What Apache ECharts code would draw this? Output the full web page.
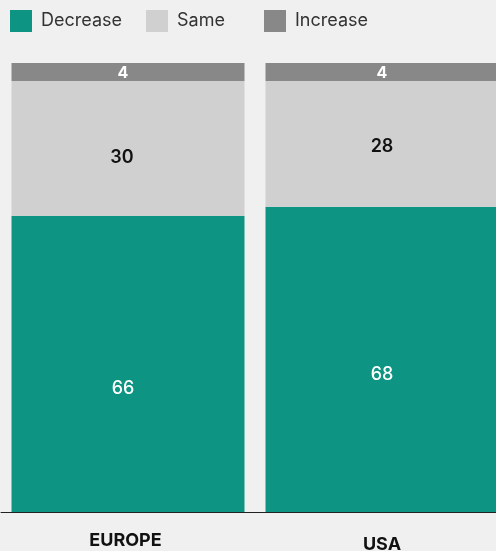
<!DOCTYPE html>
<html>
<head>
<meta charset="utf-8">
<script src="https://cdn.jsdelivr.net/npm/echarts@6/dist/echarts.min.js"></script>
<style>
  html, body { margin: 0; padding: 0; background: #f0f0f0; }
  #chart { width: 496px; height: 551px; }
</style>
</head>
<body>
<div id="chart"></div>
<script>
// 数据
const regions = ['EUROPE', 'USA']
const decrease = [66, 68]
const same = [30, 28]
const increase = [4, 4]

const colors = { Decrease: '#0e9482', Same: '#d0d0d0', Increase: '#888888' }
// 标签在原图中略微偏移
const labelShift = {
  Decrease: [[-5, 25], [0, 15]],
  Same: [[-6, 9], [0, 3]],
  Increase: [[-5, 1], [0, 1]]
}
const font = 'Inter, "Noto Sans", sans-serif'

const chart = echarts.init(document.getElementById('chart'))

// 每个图例单独放置
function legendItem(name, left) {
  return {
    data: [name],
    left: left,
    top: 10,
    padding: 0,
    itemWidth: 22,
    itemHeight: 22,
    itemGap: 0,
    icon: 'rect',
    selectedMode: false,
    textStyle: { fontFamily: font, fontSize: 18, color: '#333', padding: [2, 0, 0, 4] }
  }
}

function barSeries(name, data, labelColor, fontSize, fontWeight) {
  return {
    name: name,
    type: 'bar',
    stack: 'total',
    data: data.map((v, i) => ({
      value: v,
      label: { offset: labelShift[name][i] }
    })),
    barWidth: 233,
    itemStyle: { color: colors[name] },
    label: {
      show: true,
      position: 'inside',
      color: labelColor,
      fontFamily: font,
      fontSize: fontSize,
      fontWeight: fontWeight
    },
    emphasis: { disabled: true }
  }
}

chart.setOption({
  backgroundColor: '#f0f0f0',
  animation: false,
  legend: [
    legendItem('Decrease', 10),
    legendItem('Same', 146),
    legendItem('Increase', 264)
  ],
  grid: { left: 1, top: 63, width: 508, bottom: 39, containLabel: false, outerBoundsMode: 'none' },
  xAxis: {
    type: 'category',
    data: [
      { value: regions[0], textStyle: { padding: [0, 5, 0, 0] } },
      { value: regions[1], textStyle: { padding: [4, 0, 0, 0] } }
    ],
    axisTick: { show: false },
    axisLine: { lineStyle: { color: '#222', width: 1 } },
    axisLabel: {
      margin: 20,
      color: '#111',
      fontFamily: font,
      fontSize: 18,
      fontWeight: 'bold'
    }
  },
  yAxis: {
    type: 'value',
    min: 0,
    max: 100,
    show: false,
    splitLine: { show: false }
  },
  series: [
    barSeries('Decrease', decrease, '#ffffff', 18, 500),
    barSeries('Same', same, '#111111', 18, 600),
    barSeries('Increase', increase, '#ffffff', 16, 'bold')
  ]
})
</script>
</body>
</html>
